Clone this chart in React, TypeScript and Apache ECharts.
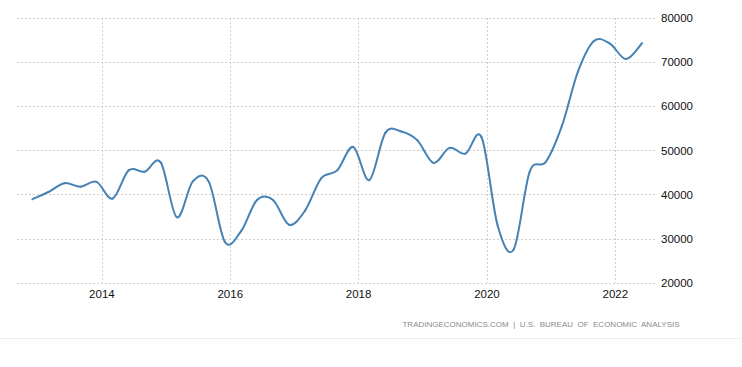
import React, { useEffect, useRef } from "react";
import * as echarts from "echarts";

const quarters: string[] = [
  "2012-12", "2013-03", "2013-06", "2013-09", "2013-12",
  "2014-03", "2014-06", "2014-09", "2014-12",
  "2015-03", "2015-06", "2015-09", "2015-12",
  "2016-03", "2016-06", "2016-09", "2016-12",
  "2017-03", "2017-06", "2017-09", "2017-12",
  "2018-03", "2018-06", "2018-09", "2018-12",
  "2019-03", "2019-06", "2019-09", "2019-12",
  "2020-03", "2020-06", "2020-09", "2020-12",
  "2021-03", "2021-06", "2021-09", "2021-12",
  "2022-03", "2022-06",
];

const values: number[] = [
  38950, 40600, 42600, 41800, 42900,
  39100, 45500, 45200, 47300,
  34900, 43000, 42900, 29300,
  31700, 38800, 38800, 33200,
  36400, 43700, 45500, 50800,
  43300, 54000, 54300, 52300,
  47200, 50600, 49300, 53000,
  33000, 27600, 45200, 47400,
  55500, 67800, 74800, 74200,
  70700, 74300,
];

const yearTicks: number[] = [2014, 2016, 2018, 2020, 2022];
const sourceText = "TRADINGECONOMICS.COM  |  U.S.  BUREAU  OF  ECONOMIC  ANALYSIS";

const toYear = (q: string) => {
  const [y, m] = q.split("-").map(Number);
  return y + (m - 1) / 12;
};

const FONT = "'Liberation Sans', Arial, sans-serif";
const LINE_COLOR = "#4682b4";

export default function App() {
  const ref = useRef<HTMLDivElement>(null);
  useEffect(() => {
    document.body.style.margin = "0";
    if (!ref.current) return;
    const chart = echarts.init(ref.current, undefined, { renderer: "svg" });
    const pts = quarters.map((q, i) => [toYear(q), values[i]]);
    chart.setOption({
      animation: false,
      backgroundColor: "#ffffff",
      grid: { left: 17, right: 85, top: 18, bottom: 84 },
      xAxis: {
        type: "value",
        min: 2012.677,
        max: 2022.65,
        axisLine: { show: false },
        axisTick: { show: false, customValues: yearTicks },
        axisLabel: {
          customValues: yearTicks,
          formatter: (v: number) => String(Math.round(v)),
          color: "#111",
          fontSize: 11.5,
          fontFamily: FONT,
          margin: 5,
        },
        splitLine: {
          show: true,
          lineStyle: { color: "#d0d0d0", type: [2, 2], width: 1 },
        },
      },
      yAxis: {
        type: "value",
        position: "right",
        min: 20000,
        max: 80000,
        interval: 10000,
        axisLine: { show: false },
        axisTick: { show: false },
        axisLabel: {
          color: "#111",
          fontSize: 11.5,
          fontFamily: FONT,
          margin: 4,
          formatter: (v: number) => String(v),
        },
        splitLine: {
          show: true,
          lineStyle: { color: "#d0d0d0", type: [2, 2], width: 1 },
        },
      },
      series: [
        {
          type: "custom",
          data: pts,
          encode: { x: 0, y: 1 },
          clip: false,
          renderItem: (params: any, api: any) => {
            const i = params.dataIndex;
            if (i >= pts.length - 1) return null;
            const c = (j: number) =>
              api.coord(pts[Math.max(0, Math.min(pts.length - 1, j))]);
            const p0 = c(i - 1);
            const p1 = c(i);
            const p2 = c(i + 1);
            const p3 = c(i + 2);
            return {
              type: "bezierCurve",
              shape: {
                x1: p1[0],
                y1: p1[1],
                x2: p2[0],
                y2: p2[1],
                cpx1: p1[0] + (p2[0] - p0[0]) / 6,
                cpy1: p1[1] + (p2[1] - p0[1]) / 6,
                cpx2: p2[0] - (p3[0] - p1[0]) / 6,
                cpy2: p2[1] - (p3[1] - p1[1]) / 6,
              },
              style: {
                stroke: LINE_COLOR,
                lineWidth: 2,
                fill: "none",
                lineCap: "round",
              },
            };
          },
        },
      ],
      graphic: [
        {
          type: "text",
          right: 62,
          top: 320,
          style: {
            text: sourceText,
            fill: "#8a8a8a",
            fontSize: 8,
            fontFamily: FONT,
          },
        },
        {
          type: "rect",
          shape: { x: 0, y: 338, width: 742, height: 1 },
          style: { fill: "#eeeeee" },
        },
      ],
    });
    return () => chart.dispose();
  }, []);
  return <div ref={ref} style={{ width: 742, height: 367 }} />;
}
